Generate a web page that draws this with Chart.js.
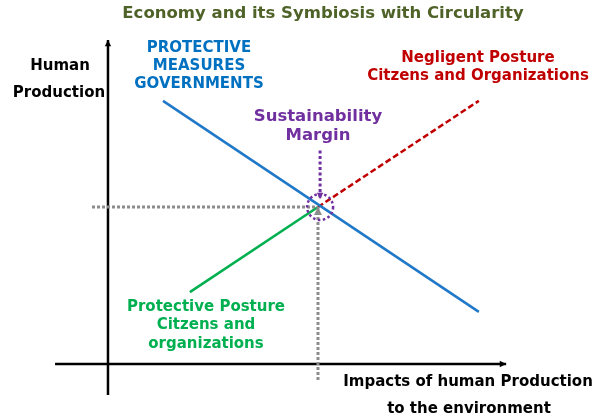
<!DOCTYPE html>
<html>
<head>
<meta charset="utf-8">
<script src="https://cdn.jsdelivr.net/npm/chart.js@4.4.1/dist/chart.umd.min.js"></script>
<style>
  html, body { margin: 0; padding: 0; background: #fff; }
  #wrap { width: 598px; height: 420px; }
</style>
</head>
<body>
<div id="wrap"><canvas id="chart" width="598" height="420"></canvas></div>
<script>
// data space: origin where the two axes cross, equilibrium at (5, 5)
const yAxisPts = [{ x: 0, y: -0.99 }, { x: 0, y: 10.32 }];
const xAxisPts = [{ x: -1.26, y: 0 }, { x: 9.48, y: 0 }];
const governmentsLine = [{ x: 1.31, y: 8.38 }, { x: 8.83, y: 1.66 }];
const protectiveLine = [{ x: 1.95, y: 2.29 }, { x: 5, y: 5 }];
const negligentLine = [{ x: 5, y: 5 }, { x: 8.83, y: 8.38 }];
const guideH = [{ x: -0.38, y: 5 }, { x: 5, y: 5 }];
const guideV = [{ x: 5, y: -0.51 }, { x: 5, y: 5 }];
const marginArrow = [{ x: 5.05, y: 6.8 }, { x: 5.05, y: 5.25 }];
const equilibrium = { x: 5.05, y: 5 };

const labels = [
  { lines: ["Economy and its Symbiosis with Circularity"], x: 323, y: 14, color: "#4f6228", size: 16.5, lh: 18 },
  { lines: ["Human"], x: 60, y: 66, color: "#000", size: 15, lh: 18 },
  { lines: ["Production"], x: 59, y: 93, color: "#000", size: 15, lh: 18 },
  { lines: ["PROTECTIVE", "MEASURES", "GOVERNMENTS"], x: 199, y: 48, color: "#0070c0", size: 15, lh: 18 },
  { lines: ["Negligent Posture", "Citzens and Organizations"], x: 478, y: 58, color: "#c00000", size: 15, lh: 18 },
  { lines: ["Sustainability", "Margin"], x: 318, y: 117, color: "#7030a0", size: 16.5, lh: 19 },
  { lines: ["Protective Posture", "Citzens and", "organizations"], x: 206, y: 307, color: "#00b050", size: 15, lh: 18.5 },
  { lines: ["Impacts of human Production"], x: 468, y: 382, color: "#000", size: 15, lh: 18 },
  { lines: ["to the environment"], x: 469, y: 409, color: "#000", size: 15, lh: 18 }
];

const FONT = '"DejaVu Sans", Verdana, sans-serif';

function seg(data, color, width, dash, arrow) {
  return {
    data: data,
    showLine: true,
    borderColor: color,
    backgroundColor: color,
    borderWidth: width,
    borderDash: dash || [],
    pointRadius: 0,
    tension: 0,
    arrow: arrow || 0
  };
}

const decorPlugin = {
  id: "decor",
  afterDatasetsDraw(chart) {
    const ctx = chart.ctx;
    const xs = chart.scales.x, ys = chart.scales.y;
    // arrowheads on datasets flagged with arrow size
    chart.data.datasets.forEach(ds => {
      if (!ds.arrow) return;
      const n = ds.data.length;
      const p1 = ds.data[n - 2], p2 = ds.data[n - 1];
      const x1 = xs.getPixelForValue(p1.x), y1 = ys.getPixelForValue(p1.y);
      const x2 = xs.getPixelForValue(p2.x), y2 = ys.getPixelForValue(p2.y);
      const a = Math.atan2(y2 - y1, x2 - x1);
      const s = ds.arrow;
      ctx.save();
      ctx.fillStyle = ds.borderColor;
      ctx.translate(x2, y2);
      ctx.rotate(a);
      ctx.beginPath();
      ctx.moveTo(0, 0);
      ctx.lineTo(-s * 1.6, -s * 0.8);
      ctx.lineTo(-s * 1.6, s * 0.8);
      ctx.closePath();
      ctx.fill();
      ctx.restore();
    });
    // dotted circle around the equilibrium point
    ctx.save();
    ctx.strokeStyle = "#7030a0";
    ctx.lineWidth = 2.5;
    ctx.setLineDash([2.5, 2.5]);
    ctx.beginPath();
    ctx.arc(xs.getPixelForValue(equilibrium.x), ys.getPixelForValue(equilibrium.y), 13, 0, Math.PI * 2);
    ctx.stroke();
    ctx.restore();
    // text
    ctx.save();
    ctx.textAlign = "center";
    ctx.textBaseline = "middle";
    labels.forEach(l => {
      ctx.fillStyle = l.color;
      ctx.font = "bold " + l.size + "px " + FONT;
      l.lines.forEach((t, i) => ctx.fillText(t, l.x, l.y + i * l.lh));
    });
    ctx.restore();
  }
};

new Chart(document.getElementById("chart"), {
  type: "scatter",
  data: {
    datasets: [
      seg(guideH, "#8c8c8c", 3, [3, 2]),
      seg(guideV, "#8c8c8c", 3, [3, 2], 5),
      seg(yAxisPts, "#000000", 2.5, null, 4),
      seg(xAxisPts, "#000000", 2.5, null, 4),
      seg(governmentsLine, "#1f78c8", 2.5),
      seg(protectiveLine, "#00b050", 2.5),
      seg(negligentLine, "#c00000", 2.5, [6, 3]),
      seg(marginArrow, "#7030a0", 3, [3, 2.5], 4)
    ]
  },
  options: {
    responsive: false,
    animation: false,
    layout: { padding: 0 },
    plugins: { legend: { display: false }, tooltip: { enabled: false }, title: { display: false } },
    scales: {
      x: { type: "linear", display: false, min: -2.571, max: 11.667 },
      y: { type: "linear", display: false, min: -1.783, max: 11.592 }
    }
  },
  plugins: [decorPlugin]
});
</script>
</body>
</html>
